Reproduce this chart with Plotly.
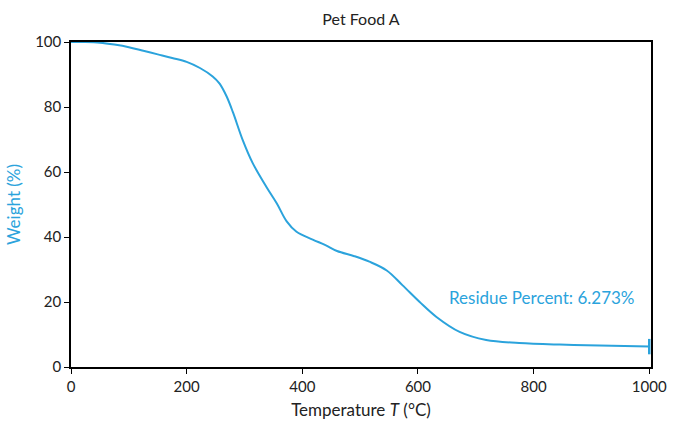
import plotly.graph_objects as go

# TGA curve: temperature (°C) vs remaining weight (%)
temperature = [0, 25, 50, 75, 100, 125, 150, 175, 200, 223, 245, 257, 269, 280, 297,
               314, 338, 356, 373, 390, 418, 440, 460, 490, 516, 546, 573, 603, 632,
               672, 718, 775, 845, 914, 1000]
weight = [100, 100, 99.8, 99.2, 98.4, 97.3, 96.2, 95.1, 93.9, 92.0, 89.4, 87.2, 83.3,
          78.4, 69.8, 62.8, 55.4, 50.3, 44.8, 41.6, 39.2, 37.5, 35.7, 34.1, 32.4, 29.7,
          25.2, 20.0, 15.4, 10.8, 8.3, 7.4, 6.9, 6.6, 6.273]

residue = weight[-1]
title = "Pet Food A"
x_title = "Temperature <i>T</i> (°C)"
y_title = "Weight (%)"

blue = "#2ba3dc"
font = "Lato, Noto Sans, sans-serif"

fig = go.Figure()
fig.add_trace(go.Scatter(
    x=temperature, y=weight, mode="lines",
    line=dict(color=blue, width=2, shape="spline", smoothing=1.0),
    showlegend=False,
))
# end-of-run marker at the residue value
fig.add_trace(go.Scatter(
    x=[temperature[-1]], y=[residue], mode="markers",
    marker=dict(symbol="line-ns", size=11, line=dict(color=blue, width=2.5)),
    showlegend=False, cliponaxis=False,
))
fig.add_annotation(
    x=815, y=21.5, text=f"Residue Percent: {residue}%",
    showarrow=False, font=dict(color=blue, size=17, family=font),
)

fig.update_layout(
    width=673, height=421,
    margin=dict(l=71, r=22, t=42, b=54, autoexpand=False),
    paper_bgcolor="white", plot_bgcolor="white",
    font=dict(family=font, color="#222222", size=15),
    title=dict(text=title, xref="paper", x=0.5, xanchor="center",
               y=0.955, yanchor="middle",
               font=dict(size=16, color="#222222")),
)
fig.update_xaxes(
    range=[0, 1003], tickvals=[0, 200, 400, 600, 800, 1000],
    showgrid=False, zeroline=False, automargin=False, layer="below traces",
    showline=True, linecolor="black", linewidth=1.5, mirror=True,
    ticks="outside", ticklen=5, tickcolor="black",
    title=dict(text=x_title, standoff=10, font=dict(size=17)),
)
fig.update_yaxes(
    range=[0, 100], tickvals=[0, 20, 40, 60, 80, 100],
    showgrid=False, zeroline=False, automargin=False, layer="below traces",
    showline=True, linecolor="black", linewidth=1.5, mirror=True,
    ticks="outside", ticklen=5, tickcolor="black",
    title=dict(text=y_title, standoff=10, font=dict(size=17, color=blue)),
)

fig.write_html("out.html")
